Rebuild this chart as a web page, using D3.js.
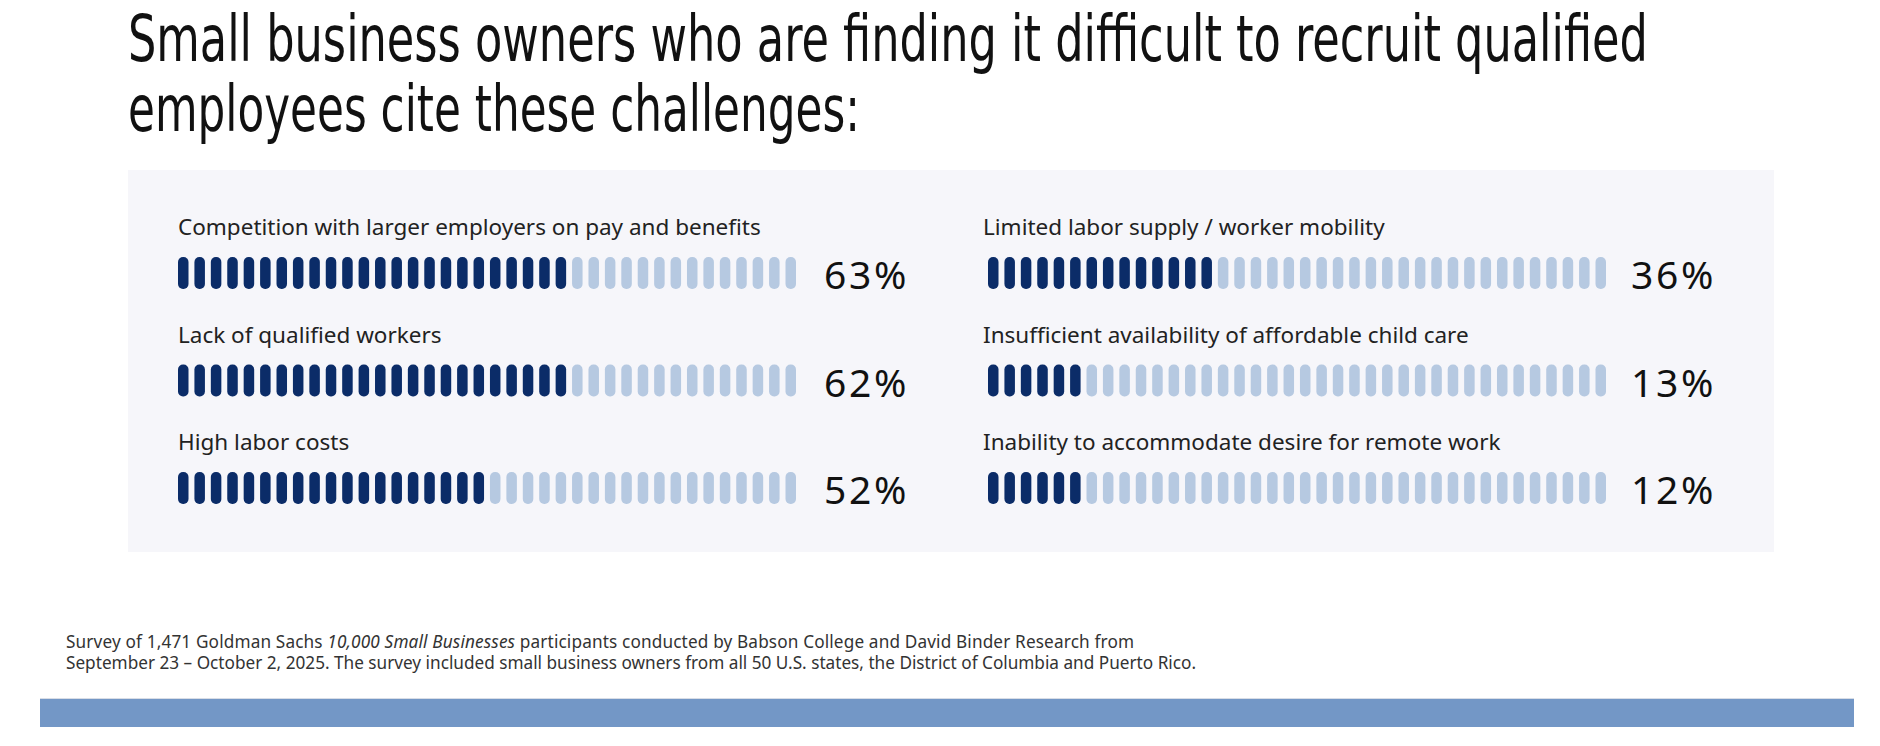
<!DOCTYPE html>
<html>
<head>
<meta charset="utf-8">
<script src="https://cdn.jsdelivr.net/npm/d3@7"></script>
<style>
  body { margin: 0; background: #fff; }
  svg { display: block; }
</style>
</head>
<body>
<script>
// values
const categories = [
  "Competition with larger employers on pay and benefits",
  "Lack of qualified workers",
  "High labor costs",
  "Limited labor supply / worker mobility",
  "Insufficient availability of affordable child care",
  "Inability to accommodate desire for remote work"
];
const percents = [63, 62, 52, 36, 13, 12];
const filledBars = [24, 24, 19, 14, 6, 6]; // dark pills counted in the image
const TOTAL_BARS = 38;

const titleLines = [
  "Small business owners who are finding it difficult to recruit qualified",
  "employees cite these challenges:"
];

const W = 1880, H = 746;
const DARK = "#0b2c68", LIGHT = "#b6c9e1";

const svg = d3.select("body").append("svg").attr("width", W).attr("height", H);

// squeeze a text horizontally to a target width (the original uses a condensed face)
function squeeze(sel, x, y, width) {
  const len = sel.node().getComputedTextLength();
  const sx = len > width ? width / len : 1;
  sel.attr("transform", `translate(${x},${y}) scale(${sx},1)`);
}

// title
titleLines.forEach((t, i) => {
  const tt = svg.append("text")
    .attr("font-family", "'Liberation Sans Narrow', 'DejaVu Sans Condensed', sans-serif")
    .attr("font-size", 64)
    .attr("fill", "#111")
    .text(t);
  squeeze(tt, 128, 61 + i * 70, i === 0 ? 1520 : 732);
});

// panel
svg.append("rect")
  .attr("x", 128).attr("y", 170)
  .attr("width", 1646).attr("height", 382)
  .attr("fill", "#f6f6fa");

// scales
const col = d3.scaleBand().domain([0, 1]).range([178, 1798]).paddingInner(0); // step 810
const row = d3.scaleBand().domain([0, 1, 2]).range([200, 522.5]);
const pill = d3.scaleBand().domain(d3.range(TOTAL_BARS)).range([0, 618]).paddingInner(0.36);

const items = categories.map((c, i) => ({
  label: c, pct: percents[i], filled: filledBars[i],
  col: Math.floor(i / 3), row: i % 3
}));

const g = svg.selectAll("g.item").data(items).join("g")
  .attr("class", "item")
  .attr("transform", d => `translate(${col(d.col)},${row(d.row)})`);

g.append("text")
  .attr("x", d => d.col ? -5 : 0)
  .attr("y", 35)
  .attr("font-family", "'Noto Sans', sans-serif")
  .attr("font-size", 22.5)
  .attr("fill", "#222")
  .text(d => d.label);

g.selectAll("rect")
  .data(d => d3.range(TOTAL_BARS).map(k => ({ k, on: k < d.filled })))
  .join("rect")
  .attr("x", d => pill(d.k))
  .attr("y", 57)
  .attr("width", pill.bandwidth())
  .attr("height", 32)
  .attr("rx", 5)
  .attr("fill", d => d.on ? DARK : LIGHT);

g.append("text")
  .attr("x", d => 618 + (d.col ? 25 : 28))
  .attr("y", 89)
  .attr("font-family", "'Noto Sans', sans-serif")
  .attr("font-size", 39)
  .attr("letter-spacing", 2.7)
  .attr("fill", "#111")
  .text(d => d.pct + "%");

// footnote
const foot = svg.append("g")
  .attr("font-family", "'Noto Sans', sans-serif")
  .attr("font-size", 17.2)
  .attr("fill", "#333");

const f1 = foot.append("text").attr("x", 66).attr("y", 648)
  .attr("textLength", 1068).attr("lengthAdjust", "spacing");
f1.append("tspan").text("Survey of 1,471 Goldman Sachs ");
f1.append("tspan").attr("font-style", "italic").text("10,000 Small Businesses");
f1.append("tspan").text(" participants conducted by Babson College and David Binder Research from");

foot.append("text").attr("x", 66).attr("y", 669)
  .attr("textLength", 1130).attr("lengthAdjust", "spacing")
  .text("September 23 \u2013 October 2, 2025. The survey included small business owners from all 50 U.S. states, the District of Columbia and Puerto Rico.");

// bottom band
svg.append("rect")
  .attr("x", 40).attr("y", 699)
  .attr("width", 1814).attr("height", 28)
  .attr("fill", "#7397c6");
svg.append("rect")
  .attr("x", 40).attr("y", 698)
  .attr("width", 1814).attr("height", 1)
  .attr("fill", "#d8dde6");
</script>
</body>
</html>
